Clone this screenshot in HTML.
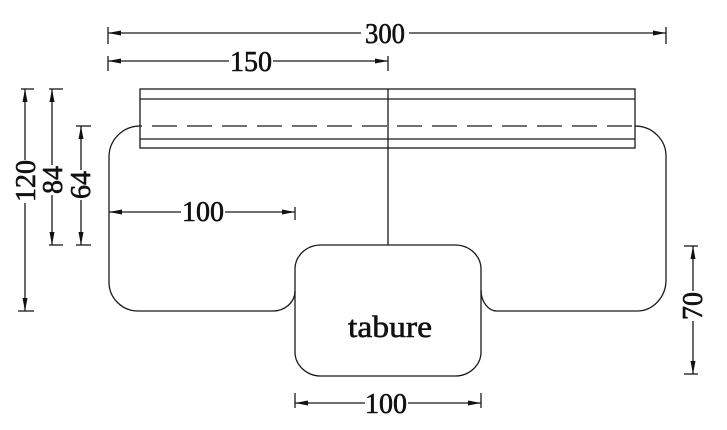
<!DOCTYPE html>
<html><head><meta charset="utf-8"><style>
html,body{margin:0;padding:0;background:#fff;}
svg{display:block;}
text{font-family:"Liberation Serif",serif;fill:#111;stroke:#111;stroke-width:0.6;}
</style></head><body>
<svg width="727" height="430" viewBox="0 0 727 430" xmlns="http://www.w3.org/2000/svg">
<g stroke="#1a1a1a" stroke-width="1.3" fill="none">
  <!-- back rect -->
  <rect x="140" y="89" width="495" height="59"/>
  <line x1="140" y1="99" x2="635" y2="99"/>
  <line x1="140" y1="139" x2="635" y2="139"/>
  <line x1="140" y1="126" x2="635" y2="126" stroke-dasharray="25 10" stroke-dashoffset="-12"/>
  <line x1="388" y1="89" x2="388" y2="245"/>
  <!-- body -->
  <path d="M140,126 A31,31 0 0 0 109,157 L109,282 A29,29 0 0 0 138,311 L273,311 A22,20 0 0 0 295,291"/>
  <path d="M481,290 A16,21 0 0 0 497,311 L637,311 A29,31 0 0 0 666,280 L666,156 A31,30 0 0 0 635,126"/>
  <!-- tabure -->
  <rect x="295" y="245" width="186" height="131" rx="26" ry="24"/>

  <!-- 300 -->
  <line x1="108" y1="27" x2="108" y2="44"/>
  <line x1="666" y1="27" x2="666" y2="44"/>
  <line x1="108" y1="33" x2="361" y2="33"/>
  <line x1="409" y1="33" x2="666" y2="33"/>
  <!-- 150 -->
  <line x1="108" y1="56" x2="108" y2="71"/>
  <line x1="388" y1="56" x2="388" y2="71"/>
  <line x1="108" y1="61" x2="229" y2="61"/>
  <line x1="273" y1="61" x2="388" y2="61"/>
  <!-- 100 left -->
  <line x1="295" y1="207" x2="295" y2="220"/>
  <line x1="109" y1="212" x2="181" y2="212"/>
  <line x1="225" y1="212" x2="295" y2="212"/>
  <!-- 100 bottom -->
  <line x1="295" y1="393" x2="295" y2="408"/>
  <line x1="481" y1="393" x2="481" y2="408"/>
  <line x1="295" y1="403" x2="365" y2="403"/>
  <line x1="408" y1="403" x2="481" y2="403"/>
  <!-- 120 -->
  <line x1="21" y1="89" x2="34" y2="89"/>
  <line x1="18" y1="311" x2="34" y2="311"/>
  <line x1="25" y1="89" x2="25" y2="160"/>
  <line x1="25" y1="203" x2="25" y2="311"/>
  <!-- 84 -->
  <line x1="49" y1="89" x2="63" y2="89"/>
  <line x1="49" y1="245" x2="63" y2="245"/>
  <line x1="52" y1="89" x2="52" y2="165"/>
  <line x1="52" y1="195" x2="52" y2="245"/>
  <!-- 64 -->
  <line x1="76" y1="126" x2="91" y2="126"/>
  <line x1="76" y1="245" x2="91" y2="245"/>
  <line x1="81" y1="126" x2="81" y2="170"/>
  <line x1="81" y1="200" x2="81" y2="245"/>
  <!-- 70 -->
  <line x1="684" y1="246" x2="698" y2="246"/>
  <line x1="684" y1="374" x2="698" y2="374"/>
  <line x1="693" y1="246" x2="693" y2="291"/>
  <line x1="693" y1="321" x2="693" y2="374"/>
</g>
<g fill="#111" stroke="none">
  <polygon points="108,33 121,30.5 121,35.5"/>
  <polygon points="666,33 653,30.5 653,35.5"/>
  <polygon points="108,61 121,58.5 121,63.5"/>
  <polygon points="388,61 375,58.5 375,63.5"/>
  <polygon points="109,212 122,209.5 122,214.5"/>
  <polygon points="295,212 282,209.5 282,214.5"/>
  <polygon points="295,403 308,400.5 308,405.5"/>
  <polygon points="481,403 468,400.5 468,405.5"/>
  <polygon points="25,89 22.5,102 27.5,102"/>
  <polygon points="25,311 22.5,298 27.5,298"/>
  <polygon points="52,89 49.5,102 54.5,102"/>
  <polygon points="52,245 49.5,232 54.5,232"/>
  <polygon points="81,126 78.5,139 83.5,139"/>
  <polygon points="81,245 78.5,232 83.5,232"/>
  <polygon points="693,246 690.5,259 695.5,259"/>
  <polygon points="693,374 690.5,361 695.5,361"/>
</g>
<g font-size="28" text-anchor="middle">
  <text x="385" y="43" font-size="29" textLength="40" lengthAdjust="spacingAndGlyphs">300</text>
  <text x="251" y="71">150</text>
  <text x="203" y="221">100</text>
  <text x="386" y="413">100</text>
  <text x="35" y="181" transform="rotate(-90 35 181)">120</text>
  <text x="62" y="180" transform="rotate(-90 62 180)">84</text>
  <text x="90" y="185" transform="rotate(-90 90 185)">64</text>
  <text x="702" y="306" transform="rotate(-90 702 306)">70</text>
  <text x="390" y="337" font-size="31" textLength="84" lengthAdjust="spacingAndGlyphs">tabure</text>
</g>
</svg>
</body></html>
